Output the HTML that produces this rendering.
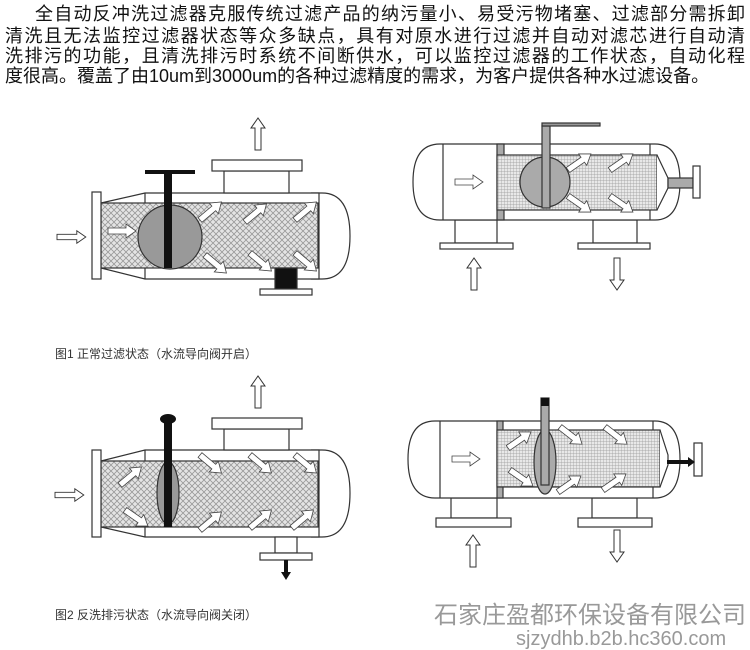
<!DOCTYPE html>
<html><head><meta charset="utf-8"><style>
html,body{margin:0;padding:0;background:#fff;width:750px;height:650px;overflow:hidden;position:relative}
.t{position:absolute;left:5px;width:740px;font-family:"Liberation Sans","Noto Sans CJK SC",sans-serif;font-size:18px;line-height:20px;color:#111;text-align:justify;text-align-last:justify;white-space:nowrap}
.cap{position:absolute;font-family:"Liberation Sans","Noto Sans CJK SC",sans-serif;font-size:12px;color:#333}
.wm{position:absolute;font-family:"Liberation Sans","Noto Sans CJK SC",sans-serif;color:#999;line-height:1}
svg{position:absolute;left:0;top:0}
</style></head><body>
<div class="t" style="top:4px;left:35px;width:710px">全自动反冲洗过滤器克服传统过滤产品的纳污量小、易受污物堵塞、过滤部分需拆卸</div>
<div class="t" style="top:26px">清洗且无法监控过滤器状态等众多缺点，具有对原水进行过滤并自动对滤芯进行自动清</div>
<div class="t" style="top:46px">洗排污的功能，且清洗排污时系统不间断供水，可以监控过滤器的工作状态，自动化程</div>
<div class="t" style="top:66px;width:700px">度很高。覆盖了由10um到3000um的各种过滤精度的需求，为客户提供各种水过滤设备。</div>
<div class="cap" style="left:55px;top:345px">图1 正常过滤状态（水流导向阀开启）</div>
<div class="cap" style="left:55px;top:606px">图2 反洗排污状态（水流导向阀关闭）</div>
<div class="wm" style="left:434px;top:604px;font-size:24px">石家庄盈都环保设备有限公司</div>
<div class="wm" style="left:516px;top:629px;font-size:20px">sjzydhb.b2b.hc360.com</div>
<svg width="750" height="650" viewBox="0 0 750 650">
<defs>
<pattern id="x" width="6" height="6" patternUnits="userSpaceOnUse">
<rect width="6" height="6" fill="#e4e4e4"/><path d="M0 0L6 6M6 0L0 6" stroke="#999" stroke-width="0.8"/></pattern>
<pattern id="g" width="3" height="3" patternUnits="userSpaceOnUse">
<rect width="3" height="3" fill="#e8e8e8"/><path d="M0 0H3M0 0V3" stroke="#999" stroke-width="0.7"/></pattern>
<path id="a" d="M0 -3H22V-7L32 0L22 7V3H0Z" fill="#fff" stroke="#333" stroke-width="1"/>
<path id="b" d="M0 -3H18V-7L28 0L18 7V3H0Z" fill="#fff" stroke="#444" stroke-width="0.8"/>
</defs>
<g stroke="#333" stroke-width="1.2" fill="#fff">
<!-- Diagram 1 -->
<path d="M311 193H322Q350 193 350 236Q350 279 322 279H311"/>
<path d="M101 203L145 193H319V279H145L101 268Z"/>
<path d="M145 193V203M145 268V279"/>
<rect x="101" y="203" width="217" height="65" fill="url(#x)"/>
<rect x="224" y="171" width="65" height="22"/>
<rect x="212" y="160" width="90" height="11"/>
<rect x="92" y="192" width="9" height="87"/>
<circle cx="170" cy="237" r="32" fill="#999"/>
<rect x="275" y="268" width="22" height="21" fill="#111"/>
<rect x="260" y="289" width="52" height="6"/>
</g>
<rect x="164" y="172" width="8" height="96" fill="#111"/>
<rect x="145" y="170" width="50" height="4" fill="#111"/>
<use href="#b" transform="translate(108 231)"/>
<use href="#a" transform="translate(57 237) scale(0.9)"/>
<use href="#a" transform="translate(258 150) rotate(-90)"/>
<use href="#b" transform="translate(200 220) rotate(-40)"/>
<use href="#b" transform="translate(245 222) rotate(-40)"/>
<use href="#b" transform="translate(295 220) rotate(-40)"/>
<use href="#b" transform="translate(205 255) rotate(40)"/>
<use href="#b" transform="translate(250 253) rotate(40)"/>
<use href="#b" transform="translate(295 253) rotate(40)"/>
<!-- Diagram 2 -->
<g stroke="#333" stroke-width="1.2" fill="#fff">
<rect x="455" y="220" width="42" height="23"/><rect x="440" y="243" width="73" height="6"/>
<rect x="593" y="220" width="44" height="23"/><rect x="578" y="243" width="72" height="6"/>
<path d="M440 144H655Q680 144 680 182Q680 220 655 220H440Q413 220 413 182Q413 144 440 144Z"/>
<path d="M443 144V220M650 144V220"/>
<rect x="497" y="144" width="7" height="76" fill="#aaa"/>
<rect x="497" y="155" width="160" height="55" fill="url(#g)"/>
<path d="M657 155L668 178V188L657 210" fill="#fff"/>
<rect x="668" y="178" width="25" height="10" fill="#aaa"/>
<rect x="693" y="166" width="7" height="32"/>
<circle cx="545" cy="182" r="25" fill="#aaa"/>
<rect x="542" y="126" width="8" height="82" fill="#aaa"/>
<rect x="542" y="123" width="58" height="3" fill="#999"/>
</g>
<use href="#b" transform="translate(455 182)"/>
<use href="#a" transform="translate(474 290) rotate(-90)"/>
<use href="#a" transform="translate(617 258) rotate(90)"/>
<use href="#b" transform="translate(568 170) rotate(-35)"/>
<use href="#b" transform="translate(610 170) rotate(-35)"/>
<use href="#b" transform="translate(568 196) rotate(35)"/>
<use href="#b" transform="translate(610 196) rotate(35)"/>
<!-- Diagram 3 -->
<g stroke="#333" stroke-width="1.2" fill="#fff">
<path d="M311 450H322Q350 450 350 493Q350 537 322 537H311"/>
<path d="M101 461L145 450H319V537H145L101 527Z"/>
<path d="M145 450V461M145 527V537"/>
<rect x="101" y="461" width="217" height="66" fill="url(#x)"/>
<rect x="224" y="429" width="65" height="21"/>
<rect x="212" y="418" width="90" height="11"/>
<rect x="92" y="450" width="9" height="87"/>
<ellipse cx="168" cy="493" rx="11" ry="31" fill="#999"/>
<rect x="275" y="537" width="22" height="16"/>
<rect x="260" y="553" width="52" height="7"/>
</g>
<rect x="164" y="420" width="8" height="107" fill="#111"/>
<ellipse cx="168" cy="419" rx="8" ry="5" fill="#111"/>
<path d="M284 560H288V572H291L286 580L281 572H284Z" fill="#111"/>
<use href="#a" transform="translate(55 495) scale(0.9)"/>
<use href="#a" transform="translate(258 408) rotate(-90)"/>
<use href="#b" transform="translate(120 485) rotate(-40)"/>
<use href="#b" transform="translate(125 510) rotate(35)"/>
<use href="#b" transform="translate(200 455) rotate(40)"/>
<use href="#b" transform="translate(250 455) rotate(40)"/>
<use href="#b" transform="translate(295 455) rotate(40)"/>
<use href="#b" transform="translate(200 530) rotate(-40)"/>
<use href="#b" transform="translate(250 528) rotate(-40)"/>
<use href="#b" transform="translate(292 528) rotate(-40)"/>
<!-- Diagram 4 -->
<g stroke="#333" stroke-width="1.2" fill="#fff">
<rect x="451" y="498" width="46" height="20"/><rect x="436" y="518" width="75" height="9"/>
<rect x="592" y="498" width="45" height="20"/><rect x="578" y="518" width="74" height="9"/>
<path d="M435 421H655Q680 421 680 459Q680 498 655 498H435Q408 498 408 459Q408 421 435 421Z"/>
<path d="M440 421V498M653 421V498"/>
<rect x="497" y="421" width="6" height="77" fill="#aaa"/>
<rect x="497" y="430" width="163" height="57" fill="url(#g)"/>
<path d="M660 430L668 455V465L660 487" fill="#fff"/>
<rect x="694" y="443" width="8" height="33"/>
<ellipse cx="545" cy="462" rx="11" ry="32" fill="#aaa"/>
<rect x="541" y="398" width="8" height="87" fill="#aaa"/>
</g>
<rect x="541" y="398" width="8" height="8" fill="#111"/>
<path d="M667 460H688V457L695 462L688 467V464H667Z" fill="#111"/>
<use href="#b" transform="translate(452 459)"/>
<use href="#a" transform="translate(473 567) rotate(-90)"/>
<use href="#a" transform="translate(617 530) rotate(90)"/>
<use href="#b" transform="translate(508 448) rotate(-35)"/>
<use href="#b" transform="translate(510 470) rotate(35)"/>
<use href="#b" transform="translate(560 427) rotate(38)"/>
<use href="#b" transform="translate(605 427) rotate(38)"/>
<use href="#b" transform="translate(558 492) rotate(-35)"/>
<use href="#b" transform="translate(603 490) rotate(-35)"/>
</svg>
</body></html>
